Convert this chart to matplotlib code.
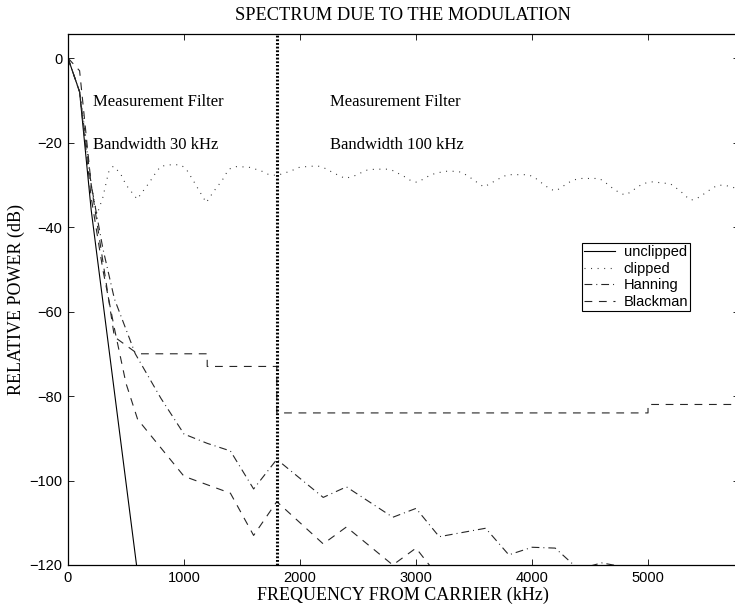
import matplotlib
matplotlib.use("Agg")
import matplotlib.pyplot as plt

# frequency from carrier (kHz) and relative power (dB)
unclipped_f = [0, 100, 200, 600]
unclipped_p = [0, -8, -36, -122]

clipped_f = [0, 100, 150, 200, 250, 300, 350, 390, 450, 500, 596, 700, 760, 800, 900,
             970, 1015, 1080, 1135, 1192, 1255, 1330, 1385, 1450, 1556, 1665, 1725,
             1800, 1880, 1940, 1990, 2080, 2160, 2215, 2270, 2320, 2390, 2476, 2530,
             2580, 2650, 2750, 2810, 2860, 2910, 2960, 3007, 3060, 3110, 3165, 3250,
             3335, 3390, 3440, 3490, 3540, 3585, 3635, 3685, 3740, 3790, 3880, 3965,
             4020, 4065, 4110, 4160, 4207, 4255, 4300, 4355, 4410, 4500, 4580, 4630,
             4680, 4725, 4790, 4815, 4865, 4910, 4960, 5030, 5076, 5130, 5190, 5235,
             5280, 5325, 5370, 5410, 5460, 5505, 5555, 5600, 5660, 5720, 5780]
clipped_p = [0, -8, -18, -30, -37, -33, -27, -25.6, -27.2, -30, -33.4, -29.5, -27, -25.6, -25.2,
             -25.3, -26.1, -29, -31.6, -34.2, -31.6, -28.9, -26.3, -25.7, -25.8, -26.7, -27.5,
             -27.8, -27.1, -26.5, -25.9, -25.6, -25.6, -26.1, -26.9, -27.6, -28.5, -27.8, -27.1,
             -26.5, -26.3, -26.3, -26.7, -27.5, -28.2, -29.1, -29.4, -28.7, -27.9, -27.3, -26.8,
             -26.8, -27, -27.8, -28.7, -29.7, -30.5, -29.8, -29, -28.2, -27.6, -27.6, -27.6,
             -28.2, -29.2, -30.1, -31.1, -31.4, -30.6, -29.7, -28.9, -28.5, -28.5, -28.5, -29.4,
             -30.5, -31.4, -32.3, -32.3, -31.4, -30.5, -29.7, -29.3, -29.4, -29.6, -29.7, -30.6,
             -31.5, -32.7, -33.6, -33.4, -32.6, -31.7, -30.8, -30.1, -30.1, -30.5, -31]

hanning_f = [0, 100, 200, 300, 400, 580, 800, 1000, 1200, 1400, 1600, 1800, 2200, 2400,
             2800, 3000, 3200, 3600, 3800, 4000, 4200, 4400, 4600, 4800, 5000]
hanning_p = [0, -8, -30, -45, -57, -70, -80.5, -89, -91.2, -93, -102, -95, -104, -101.5,
             -108.7, -106.6, -113.3, -111.3, -117.6, -115.8, -116, -121, -119.5, -120.5, -124]

blackman_f = [0, 100, 200, 300, 400, 500, 600, 1000, 1400, 1600, 1800, 2200, 2400, 2800, 3000, 3200]
blackman_p = [0, -8, -33, -50, -64, -77, -85.5, -99, -103, -113, -105, -115, -111, -120, -116, -123]

# stepped limit line (dashed, not in the legend)
limit_f = [0, 100, 200, 300, 400, 600, 1200, 1200, 1800, 1800, 5000, 5000, 5780]
limit_p = [0, -3, -30, -48, -66, -70, -70, -73, -73, -84, -84, -82, -82]

filter_edge = 1800
labels = ["unclipped", "clipped", "Hanning", "Blackman"]

serif = "Liberation Serif"
sans = "Liberation Sans"

fig = plt.figure(figsize=(7.35, 6.05), dpi=100)
ax = fig.add_axes([68 / 735, 40 / 605, 670.5 / 735, 531 / 605])

lw = 0.8
ax.plot(unclipped_f, unclipped_p, color="black", lw=lw, label=labels[0])
ax.plot(clipped_f, clipped_p, color="0.2", lw=lw, dashes=(0.9, 5), label=labels[1])
ax.plot(hanning_f, hanning_p, color="0.15", lw=lw, dashes=(7, 3.6, 0.9, 3.6), label=labels[2])
ax.plot(blackman_f, blackman_p, color="0.15", lw=lw, dashes=(7, 6), label=labels[3])
ax.plot(limit_f, limit_p, color="0.15", lw=lw, dashes=(7, 6))
ax.axvline(filter_edge, color="black", lw=2.2, dashes=(0.6, 0.6))

ax.set_xlim(0, 5780)
ax.set_ylim(-120, 5.7)
ax.set_xticks([0, 1000, 2000, 3000, 4000, 5000])
ax.set_yticks([-120, -100, -80, -60, -40, -20, 0])
ax.tick_params(direction="in", length=4.3, width=0.6, top=True, right=True,
               labelsize=10.5, pad=4)
for t in ax.get_xticklabels() + ax.get_yticklabels():
    t.set_fontfamily(sans)
for s in ax.spines.values():
    s.set_linewidth(0.9)

ax.text(215, -10.4, "Measurement Filter", family=serif, fontsize=12, va="center")
ax.text(215, -20.6, "Bandwidth 30 kHz", family=serif, fontsize=12, va="center")
ax.text(2255, -10.4, "Measurement Filter", family=serif, fontsize=12, va="center")
ax.text(2255, -20.6, "Bandwidth 100 kHz", family=serif, fontsize=12, va="center")

fig.text(403 / 735, 1 - 15 / 605, "SPECTRUM DUE TO THE MODULATION", family=serif,
         fontsize=13.2, ha="center", va="center")
ax.set_xlabel("FREQUENCY FROM CARRIER (kHz)", family=serif, fontsize=13)
ax.xaxis.set_label_coords(0.5, -0.04)
ax.set_ylabel("RELATIVE POWER (dB)", family=serif, fontsize=13)
ax.yaxis.set_label_coords(-0.064, 0.5)

leg = ax.legend(loc="upper left", bbox_to_anchor=(0.7666, 0.6064), borderaxespad=0,
                prop={"family": sans, "size": 10.5}, fancybox=False, framealpha=1,
                edgecolor="black", borderpad=0.15, labelspacing=0.17,
                handlelength=2.1, handletextpad=0.6)
leg.get_frame().set_linewidth(0.8)

fig.savefig("out.png", dpi=100)
